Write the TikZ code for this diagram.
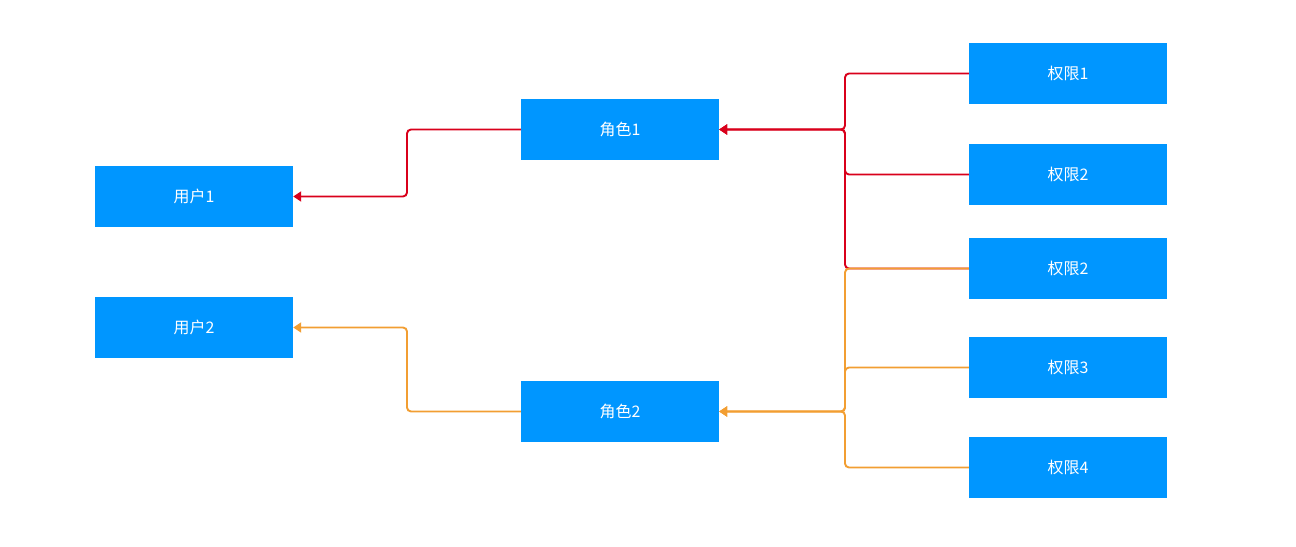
\documentclass[tikz,border=0pt]{standalone}
\usepackage{fontspec}
\setmainfont{Noto Sans CJK SC}
\usetikzlibrary{arrows.meta}
\definecolor{boxblue}{RGB}{0,150,255}
\definecolor{lred}{RGB}{217,0,27}
\definecolor{lorange}{RGB}{242,158,50}
\tikzset{
  box/.style={fill=boxblue, draw=none, minimum width=198bp, minimum height=61bp, inner sep=0pt, text=white, font=\fontsize{16}{19}\selectfont},
  link/.style={line width=1.9bp, rounded corners=4bp, -{Triangle[length=8bp,width=10bp]}},
}
\begin{document}
\begin{tikzpicture}[x=1bp,y=-1bp]
\useasboundingbox (0,0) rectangle (1296,547);
\node[box] (u1) at (194,196.5) {用户1};
\node[box] (u2) at (194,327.5) {用户2};
\node[box] (r1) at (620,129.5) {角色1};
\node[box] (r2) at (620,411.5) {角色2};
\node[box] (p1) at (1068,73.5) {权限1};
\node[box] (p2) at (1068,174.5) {权限2};
\node[box] (p3) at (1068,268.5) {权限2};
\node[box] (p4) at (1068,367.5) {权限3};
\node[box] (p5) at (1068,467.5) {权限4};
% red
\draw[link, lred] (r1.west) -| (407,163) |- (u1.east);
\draw[link, lred] (p1.west) -| (845,100) |- (r1.east);
\draw[link, lred] (p2.west) -| (845,150) |- (r1.east);
\draw[link, lred] (p3.west) -| (845,200) |- (r1.east);
% orange
\draw[link, lorange] (r2.west) -| (407,370) |- (u2.east);
\draw[link, lorange] (p3.west) -| (845,340) |- (r2.east);
\draw[link, lorange] (p4.west) -| (845,390) |- (r2.east);
\draw[link, lorange] (p5.west) -| (845,440) |- (r2.east);
\end{tikzpicture}
\end{document}
